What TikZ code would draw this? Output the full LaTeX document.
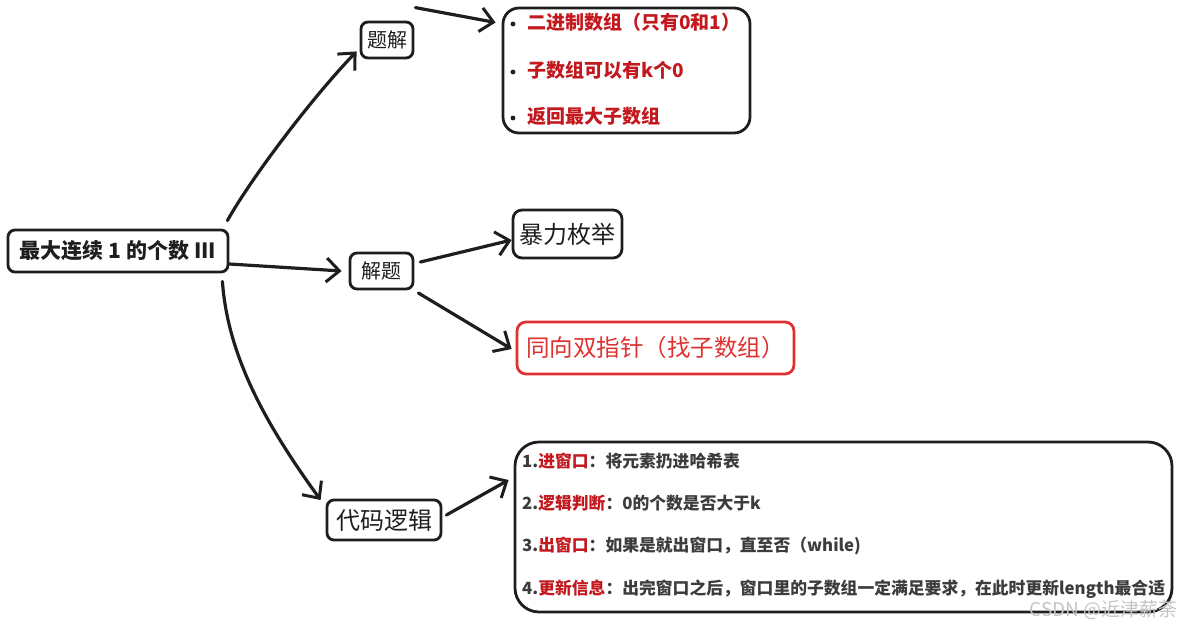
\documentclass[tikz,border=0pt]{standalone}
\usepackage{fontspec}
\setmainfont{Noto Sans CJK SC}
\usetikzlibrary{arrows.meta}
\definecolor{ink}{HTML}{1E1E1E}
\definecolor{bred}{HTML}{C2181E}
\definecolor{xred}{HTML}{E03131}
\definecolor{tgray}{HTML}{3C3C3C}
\definecolor{wm}{HTML}{C4C4C4}
\tikzset{
  box/.style={draw=ink, line width=2.8pt, rounded corners=7pt, inner sep=0pt, text=ink},
  arr/.style={draw=ink, line width=3.2pt, line cap=round, -{Straight Barb[length=13pt,width=24pt,line width=3pt]}},
  bul/.style={anchor=west, text=bred, font=\bfseries\fontsize{19}{22}\selectfont, inner sep=0pt},
  cl/.style={anchor=west, text=tgray, font=\bfseries\fontsize{16.8}{19}\selectfont, inner sep=0pt},
}
\begin{document}
\begin{tikzpicture}[x=1pt,y=-1pt]
\useasboundingbox (0,0) rectangle (1182,630);

\node[box, minimum width=220pt, minimum height=42pt, font=\bfseries\fontsize{21}{24}\selectfont] (root) at (118,251) {最大连续 1 的个数 III};

\node[box, minimum width=52pt, minimum height=36pt, font=\fontsize{20}{22}\selectfont] (tj) at (387,40) {题解};
\node[box, rounded corners=16pt, minimum width=247pt, minimum height=125pt] (bl) at (626.5,70.5) {};
\node[bul] (b1) at (527,22) {二进制数组（只有0和1）};
\node[bul] (b2) at (527,70) {子数组可以有k个0};
\node[bul] (b3) at (527,116) {返回最大子数组};
\fill[ink] (513,24) circle (2.4pt);
\fill[ink] (513,72) circle (2.4pt);
\fill[ink] (513,118) circle (2.4pt);

\node[box, minimum width=63pt, minimum height=36pt, font=\fontsize{20}{22}\selectfont] (jt) at (381.5,271) {解题};
\node[box, rounded corners=9pt, minimum width=109pt, minimum height=48pt, font=\fontsize{24}{26}\selectfont] (bl2) at (567.5,234) {暴力枚举};
\node[box, draw=xred, text=xred, rounded corners=9pt, minimum width=277pt, minimum height=52pt, font=\fontsize{23.5}{26}\selectfont] (tx) at (655.5,348) {同向双指针（找子数组）};

\node[box, minimum width=114pt, minimum height=40pt, font=\fontsize{24}{26}\selectfont] (dm) at (384,520) {代码逻辑};
\node[box, rounded corners=24pt, minimum width=657pt, minimum height=170pt] (cb) at (843.5,527) {};
\node[cl] (c1) at (522,461) {1.\textcolor{bred}{进窗口}：将元素扔进哈希表};
\node[cl] (c2) at (522,503) {2.\textcolor{bred}{逻辑判断}：0的个数是否大于k};
\node[cl] (c3) at (522,546) {3.\textcolor{bred}{出窗口}：如果是就出窗口，直至否（while)};
\node[cl] (c4) at (522,589) {4.\textcolor{bred}{更新信息}：出完窗口之后，窗口里的子数组一定满足要求，在此时更新length最合适};

\node[anchor=east, text=wm, font=\fontsize{19}{21}\selectfont, inner sep=0pt] (wmk) at (1178,610) {CSDN @近津薪荼};

\draw[arr] ([shift={(-2,-8)}]root.north east) .. controls (250,180) and (310,100) .. ([shift={(-3,-8)}]tj.south west);
\draw[arr] ([shift={(1,-13)}]tj.north east) -- ([shift={(-6,-48)}]bl.west);
\draw[arr] ([shift={(0,13)}]root.east) -- ([shift={(-7,0)}]jt.west);
\draw[arr] ([shift={(6,-9)}]jt.east) -- ([shift={(0,6)}]bl2.west);
\draw[arr] ([shift={(4,22)}]jt.east) -- ([shift={(-4,1)}]tx.west);
\draw[arr] ([shift={(-7,8)}]root.south east) .. controls (228,360) and (270,430) .. ([shift={(-5,-20)}]dm.west);
\draw[arr] ([shift={(4,-5)}]dm.east) -- ([shift={(-5,-47)}]cb.west);
\end{tikzpicture}
\end{document}
